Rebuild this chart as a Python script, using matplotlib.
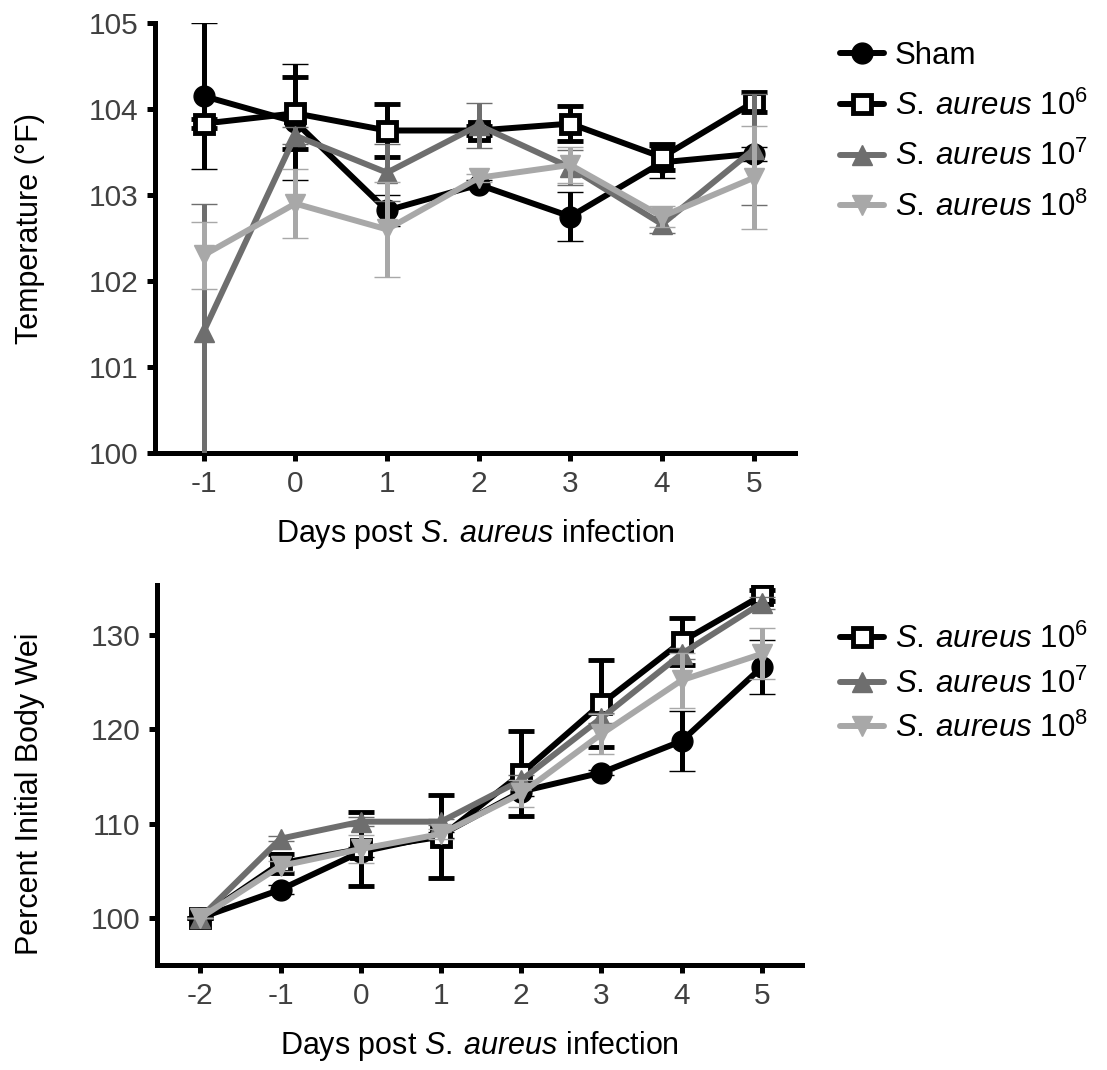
import numpy as np
import matplotlib
matplotlib.use("Agg")
import matplotlib.pyplot as plt
from matplotlib.lines import Line2D

plt.rcParams['font.family'] = ['Liberation Sans', 'DejaVu Sans']
plt.rcParams['mathtext.fontset'] = 'custom'
plt.rcParams['mathtext.rm'] = 'Liberation Sans'
plt.rcParams['mathtext.it'] = 'Liberation Sans:italic'
plt.rcParams['axes.unicode_minus'] = False

# ---- data: temperature ----
days_top = [-1, 0, 1, 2, 3, 4, 5]
sham_t = [104.15, 103.85, 102.82, 103.12, 102.75, 103.38, 103.48]
sham_t_err = [0.85, 0.67, 0.18, 0.05, 0.29, 0.18, 0.08]
s6_t = [103.83, 103.95, 103.75, 103.75, 103.83, 103.44, 104.08]
s6_t_err = [0.05, 0.42, 0.31, 0.05, 0.2, 0.15, 0.12]
s7_t = [101.41, 103.69, 103.26, 103.81, 103.32, 102.66, 103.53]
s7_t_err = [1.48, 0.1, 0.33, 0.26, 0.2, 0.1, 0.65]
s8_t = [102.3, 102.9, 102.6, 103.2, 103.35, 102.75, 103.2]
s8_t_err = [0.39, 0.4, 0.55, 0.05, 0.21, 0.12, 0.6]

# ---- data: body weight ----
days_bot = [-2, -1, 0, 1, 2, 3, 4, 5]
sham_b = [100, 103.0, 107.0, 108.8, 113.4, 115.4, 118.75, 126.6]
sham_b_err = [0, 0.5, 0.5, 0.3, 0.5, 0.3, 3.2, 2.9]
s6_b = [100, 105.8, 107.3, 108.6, 115.3, 122.7, 129.3, 134.2]
s6_b_err = [0, 1.0, 3.9, 4.4, 4.5, 4.6, 2.5, 0.6]
s7_b = [100, 108.4, 110.2, 110.2, 114.6, 121.2, 128.0, 133.4]
s7_b_err = [0, 0.3, 0.5, 0.3, 0.5, 0.5, 0.6, 0.6]
s8_b = [100, 105.5, 107.3, 108.9, 113.2, 119.5, 125.2, 128.0]
s8_b_err = [0, 0.5, 1.5, 0.5, 1.4, 2.1, 2.9, 2.7]

sa = r'$\mathit{S.\:aureus}$'
labels = ['Sham', sa + r' 10$^6$', sa + r' 10$^7$', sa + r' 10$^8$']
colors = ['black', 'black', '#6e6e6e', '#a8a8a8']
markers = ['o', 's', '^', 'v']
faces = ['black', 'white', '#6e6e6e', '#a8a8a8']
LW = 4.3

fig = plt.figure(figsize=(11.07, 10.70), dpi=100)
W, H = 1107, 1070
ax1 = fig.add_axes([155 / W, 1 - 453 / H, 640 / W, 430 / H])
ax2 = fig.add_axes([157 / W, 1 - 965 / H, 645 / W, 380 / H])


def draw(ax, x, series, errs):
    for i, (y, e) in enumerate(zip(series, errs)):
        ax.errorbar(x, y, yerr=e, color=colors[i], lw=LW, marker=markers[i],
                    ms=15 if markers[i] != 's' else 13, mfc=faces[i], mec=colors[i],
                    mew=3.5 if markers[i] == 's' else 1, capsize=9.5, capthick=3.6,
                    elinewidth=3.6, zorder=3 + i, clip_on=True)


draw(ax1, days_top, [sham_t, s6_t, s7_t, s8_t], [sham_t_err, s6_t_err, s7_t_err, s8_t_err])
draw(ax2, days_bot, [sham_b, s6_b, s7_b, s8_b], [sham_b_err, s6_b_err, s7_b_err, s8_b_err])

ax1.set_xlim(-1.53, 5.45)
ax1.set_ylim(100, 105)
ax1.set_xticks(days_top)
ax1.set_yticks([100, 101, 102, 103, 104, 105])
ax2.set_xlim(-2.54, 5.5)
ax2.set_ylim(95, 135.3)
ax2.set_xticks(days_bot)
ax2.set_yticks([100, 110, 120, 130])

for ax in (ax1, ax2):
    for s in ('top', 'right'):
        ax.spines[s].set_visible(False)
    for s in ('left', 'bottom'):
        ax.spines[s].set_linewidth(3.6)
    ax.tick_params(width=3.6, length=6, labelsize=21.5, labelcolor='#404040', pad=6)
    ax.set_xlabel('Days post ' + sa + ' infection', fontsize=22, labelpad=14)

fig.text(30 / W, 1 - 228 / H, 'Temperature (°F)', rotation=90, fontsize=22,
         ha='center', va='center')
fig.text(30 / W, 1 - 955 / H, 'Percent Initial Body Wei', rotation=90, fontsize=22,
         ha='center', va='bottom')


def handle(i):
    return Line2D([], [], color=colors[i], lw=LW, marker=markers[i],
                  ms=15 if markers[i] != 's' else 13,
                  mfc=faces[i], mec=colors[i], mew=3.5 if markers[i] == 's' else 1,
                  solid_capstyle='round')


leg1 = fig.legend([handle(i) for i in range(4)], labels, loc='upper left',
                  bbox_to_anchor=(812 / W, 1 - 13 / H), frameon=False, fontsize=22.5,
                  handlelength=1.4, handletextpad=0.35, labelspacing=0.62)
leg2 = fig.legend([handle(i) for i in range(1, 4)], labels[1:], loc='upper left',
                  bbox_to_anchor=(812 / W, 1 - 596 / H), frameon=False, fontsize=22.5,
                  handlelength=1.4, handletextpad=0.35, labelspacing=0.42)

fig.savefig('out.png', dpi=100)
